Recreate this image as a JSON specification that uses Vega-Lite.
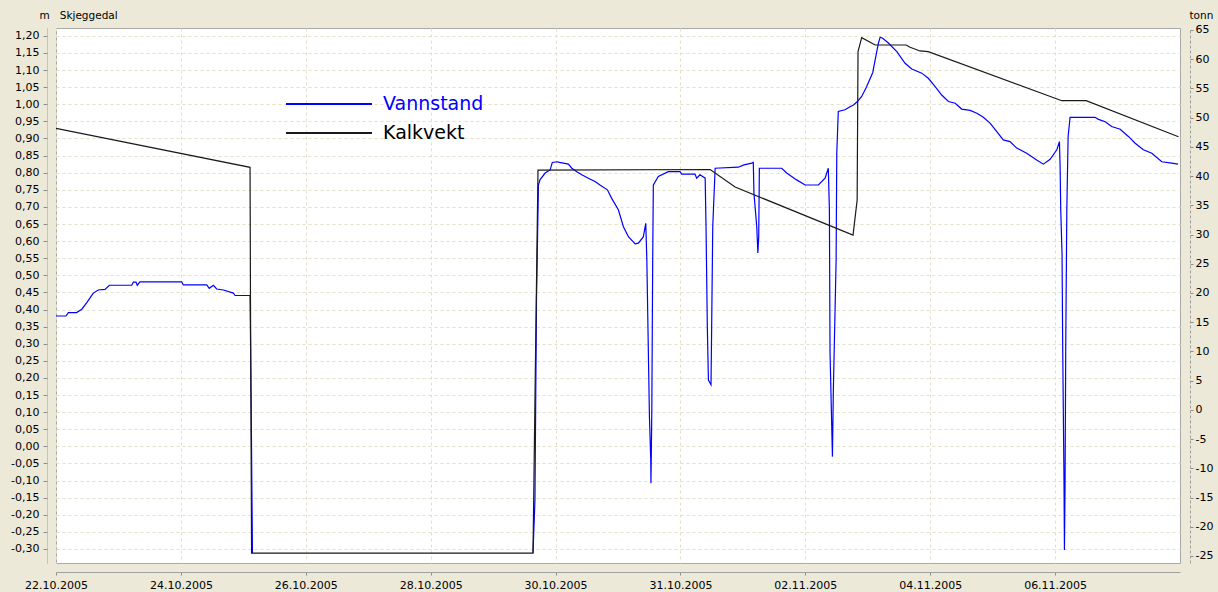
{
  "$schema": "https://vega.github.io/schema/vega-lite/v6.json",
  "width": 1124,
  "height": 535,
  "autosize": {"type": "none"},
  "padding": {"left": 56, "top": 28, "right": 38, "bottom": 29},
  "background": "#ECE9D8",
  "view": {"fill": "#ffffff", "stroke": "#a8a8a8", "strokeWidth": 1},
  "config": {
    "locale": {"number": {"decimal": ",", "thousands": " ", "grouping": [3], "currency": ["", " kr"], "minus": "-"}},
    "font": "DejaVu Sans",
    "axis": {
      "labelFont": "DejaVu Sans", "labelFontSize": 11, "labelColor": "#000000",
      "titleFont": "DejaVu Sans", "titleFontSize": 10.5, "titleFontWeight": "normal", "titleColor": "#000000",
      "gridColor": "#e4e0c8", "gridDash": [3, 3], "gridWidth": 1,
      "tickColor": "#8c8c8c", "domainColor": "#a0a0a0"
    }
  },
  "datasets": {
    "vannstand": [
      {"del": 1, "tid": "2005-10-22T00:00", "verdi": 0.381},
      {"del": 1, "tid": "2005-10-22T03:50", "verdi": 0.381},
      {"del": 1, "tid": "2005-10-22T04:45", "verdi": 0.391},
      {"del": 1, "tid": "2005-10-22T07:55", "verdi": 0.391},
      {"del": 1, "tid": "2005-10-22T09:55", "verdi": 0.401},
      {"del": 1, "tid": "2005-10-22T11:50", "verdi": 0.420},
      {"del": 1, "tid": "2005-10-22T14:20", "verdi": 0.448},
      {"del": 1, "tid": "2005-10-22T16:15", "verdi": 0.457},
      {"del": 1, "tid": "2005-10-22T18:50", "verdi": 0.459},
      {"del": 1, "tid": "2005-10-22T20:30", "verdi": 0.471},
      {"del": 1, "tid": "2005-10-23T05:05", "verdi": 0.471},
      {"del": 1, "tid": "2005-10-23T05:45", "verdi": 0.480},
      {"del": 1, "tid": "2005-10-23T06:45", "verdi": 0.480},
      {"del": 1, "tid": "2005-10-23T07:15", "verdi": 0.471},
      {"del": 1, "tid": "2005-10-23T08:15", "verdi": 0.481},
      {"del": 1, "tid": "2005-10-24T00:20", "verdi": 0.481},
      {"del": 1, "tid": "2005-10-24T00:55", "verdi": 0.472},
      {"del": 1, "tid": "2005-10-24T09:55", "verdi": 0.472},
      {"del": 1, "tid": "2005-10-24T10:55", "verdi": 0.462},
      {"del": 1, "tid": "2005-10-24T12:30", "verdi": 0.471},
      {"del": 1, "tid": "2005-10-24T13:45", "verdi": 0.460},
      {"del": 1, "tid": "2005-10-24T16:20", "verdi": 0.457},
      {"del": 1, "tid": "2005-10-24T20:10", "verdi": 0.448},
      {"del": 1, "tid": "2005-10-24T20:50", "verdi": 0.441},
      {"del": 1, "tid": "2005-10-25T02:35", "verdi": 0.441},
      {"del": 1, "tid": "2005-10-25T03:00", "verdi": 0.136},
      {"del": 1, "tid": "2005-10-25T03:30", "verdi": -0.312},
      {"del": 2, "tid": "2005-10-29T15:20", "verdi": -0.312},
      {"del": 2, "tid": "2005-10-29T16:05", "verdi": -0.157},
      {"del": 2, "tid": "2005-10-29T16:40", "verdi": 0.428},
      {"del": 2, "tid": "2005-10-29T17:25", "verdi": 0.764},
      {"del": 2, "tid": "2005-10-29T18:00", "verdi": 0.779},
      {"del": 2, "tid": "2005-10-29T20:00", "verdi": 0.799},
      {"del": 2, "tid": "2005-10-29T21:55", "verdi": 0.808},
      {"del": 2, "tid": "2005-10-29T22:45", "verdi": 0.830},
      {"del": 2, "tid": "2005-10-30T00:40", "verdi": 0.832},
      {"del": 2, "tid": "2005-10-30T01:30", "verdi": 0.830},
      {"del": 2, "tid": "2005-10-30T04:55", "verdi": 0.825},
      {"del": 2, "tid": "2005-10-30T06:15", "verdi": 0.813},
      {"del": 2, "tid": "2005-10-30T08:10", "verdi": 0.803},
      {"del": 2, "tid": "2005-10-30T10:05", "verdi": 0.794},
      {"del": 2, "tid": "2005-10-30T12:35", "verdi": 0.784},
      {"del": 2, "tid": "2005-10-30T15:10", "verdi": 0.774},
      {"del": 2, "tid": "2005-10-30T17:05", "verdi": 0.764},
      {"del": 2, "tid": "2005-10-30T19:55", "verdi": 0.750},
      {"del": 2, "tid": "2005-10-30T21:35", "verdi": 0.725},
      {"del": 2, "tid": "2005-10-31T00:10", "verdi": 0.691},
      {"del": 2, "tid": "2005-10-31T02:05", "verdi": 0.642},
      {"del": 2, "tid": "2005-10-31T04:00", "verdi": 0.613},
      {"del": 2, "tid": "2005-10-31T06:35", "verdi": 0.592},
      {"del": 2, "tid": "2005-10-31T07:50", "verdi": 0.594},
      {"del": 2, "tid": "2005-10-31T09:45", "verdi": 0.613},
      {"del": 2, "tid": "2005-10-31T10:40", "verdi": 0.652},
      {"del": 2, "tid": "2005-10-31T11:05", "verdi": 0.545},
      {"del": 2, "tid": "2005-10-31T12:05", "verdi": 0.087},
      {"del": 2, "tid": "2005-10-31T12:35", "verdi": -0.040},
      {"del": 2, "tid": "2005-10-31T12:40", "verdi": -0.108},
      {"del": 2, "tid": "2005-10-31T13:00", "verdi": 0.106},
      {"del": 2, "tid": "2005-10-31T13:20", "verdi": 0.545},
      {"del": 2, "tid": "2005-10-31T13:35", "verdi": 0.764},
      {"del": 2, "tid": "2005-10-31T15:30", "verdi": 0.789},
      {"del": 2, "tid": "2005-10-31T19:20", "verdi": 0.803},
      {"del": 2, "tid": "2005-10-31T23:50", "verdi": 0.803},
      {"del": 2, "tid": "2005-11-01T00:30", "verdi": 0.796},
      {"del": 2, "tid": "2005-11-01T05:35", "verdi": 0.796},
      {"del": 2, "tid": "2005-11-01T06:15", "verdi": 0.784},
      {"del": 2, "tid": "2005-11-01T07:30", "verdi": 0.794},
      {"del": 2, "tid": "2005-11-01T09:30", "verdi": 0.784},
      {"del": 2, "tid": "2005-11-01T09:50", "verdi": 0.642},
      {"del": 2, "tid": "2005-11-01T10:20", "verdi": 0.350},
      {"del": 2, "tid": "2005-11-01T10:45", "verdi": 0.194},
      {"del": 2, "tid": "2005-11-01T11:45", "verdi": 0.180},
      {"del": 2, "tid": "2005-11-01T12:00", "verdi": 0.350},
      {"del": 2, "tid": "2005-11-01T12:25", "verdi": 0.642},
      {"del": 2, "tid": "2005-11-01T13:20", "verdi": 0.813},
      {"del": 2, "tid": "2005-11-01T22:15", "verdi": 0.816},
      {"del": 2, "tid": "2005-11-02T00:25", "verdi": 0.823},
      {"del": 2, "tid": "2005-11-02T03:25", "verdi": 0.828},
      {"del": 2, "tid": "2005-11-02T04:00", "verdi": 0.830},
      {"del": 2, "tid": "2005-11-02T04:15", "verdi": 0.740},
      {"del": 2, "tid": "2005-11-02T05:20", "verdi": 0.642},
      {"del": 2, "tid": "2005-11-02T05:45", "verdi": 0.565},
      {"del": 2, "tid": "2005-11-02T06:05", "verdi": 0.613},
      {"del": 2, "tid": "2005-11-02T06:20", "verdi": 0.813},
      {"del": 2, "tid": "2005-11-02T14:55", "verdi": 0.813},
      {"del": 2, "tid": "2005-11-02T16:50", "verdi": 0.799},
      {"del": 2, "tid": "2005-11-02T20:40", "verdi": 0.779},
      {"del": 2, "tid": "2005-11-02T23:55", "verdi": 0.764},
      {"del": 2, "tid": "2005-11-03T05:00", "verdi": 0.764},
      {"del": 2, "tid": "2005-11-03T07:35", "verdi": 0.784},
      {"del": 2, "tid": "2005-11-03T08:50", "verdi": 0.813},
      {"del": 2, "tid": "2005-11-03T09:15", "verdi": 0.691},
      {"del": 2, "tid": "2005-11-03T09:30", "verdi": 0.272},
      {"del": 2, "tid": "2005-11-03T10:25", "verdi": -0.030},
      {"del": 2, "tid": "2005-11-03T10:45", "verdi": 0.156},
      {"del": 2, "tid": "2005-11-03T11:50", "verdi": 0.545},
      {"del": 2, "tid": "2005-11-03T12:05", "verdi": 0.857},
      {"del": 2, "tid": "2005-11-03T12:40", "verdi": 0.979},
      {"del": 2, "tid": "2005-11-03T15:15", "verdi": 0.984},
      {"del": 2, "tid": "2005-11-03T17:10", "verdi": 0.993},
      {"del": 2, "tid": "2005-11-03T18:30", "verdi": 0.998},
      {"del": 2, "tid": "2005-11-03T20:00", "verdi": 1.008},
      {"del": 2, "tid": "2005-11-03T21:40", "verdi": 1.023},
      {"del": 2, "tid": "2005-11-03T23:35", "verdi": 1.052},
      {"del": 2, "tid": "2005-11-04T01:55", "verdi": 1.093},
      {"del": 2, "tid": "2005-11-04T02:50", "verdi": 1.130},
      {"del": 2, "tid": "2005-11-04T04:05", "verdi": 1.179},
      {"del": 2, "tid": "2005-11-04T04:45", "verdi": 1.196},
      {"del": 2, "tid": "2005-11-04T05:45", "verdi": 1.193},
      {"del": 2, "tid": "2005-11-04T07:55", "verdi": 1.179},
      {"del": 2, "tid": "2005-11-04T11:10", "verdi": 1.154},
      {"del": 2, "tid": "2005-11-04T14:20", "verdi": 1.120},
      {"del": 2, "tid": "2005-11-04T16:55", "verdi": 1.103},
      {"del": 2, "tid": "2005-11-04T20:45", "verdi": 1.091},
      {"del": 2, "tid": "2005-11-04T23:15", "verdi": 1.076},
      {"del": 2, "tid": "2005-11-05T01:50", "verdi": 1.052},
      {"del": 2, "tid": "2005-11-05T04:25", "verdi": 1.027},
      {"del": 2, "tid": "2005-11-05T07:00", "verdi": 1.008},
      {"del": 2, "tid": "2005-11-05T09:35", "verdi": 1.003},
      {"del": 2, "tid": "2005-11-05T12:05", "verdi": 0.986},
      {"del": 2, "tid": "2005-11-05T15:20", "verdi": 0.982},
      {"del": 2, "tid": "2005-11-05T17:55", "verdi": 0.974},
      {"del": 2, "tid": "2005-11-05T20:25", "verdi": 0.962},
      {"del": 2, "tid": "2005-11-05T23:00", "verdi": 0.945},
      {"del": 2, "tid": "2005-11-06T01:35", "verdi": 0.920},
      {"del": 2, "tid": "2005-11-06T04:05", "verdi": 0.896},
      {"del": 2, "tid": "2005-11-06T06:40", "verdi": 0.891},
      {"del": 2, "tid": "2005-11-06T09:15", "verdi": 0.872},
      {"del": 2, "tid": "2005-11-06T13:05", "verdi": 0.857},
      {"del": 2, "tid": "2005-11-06T16:55", "verdi": 0.837},
      {"del": 2, "tid": "2005-11-06T19:30", "verdi": 0.825},
      {"del": 2, "tid": "2005-11-06T22:05", "verdi": 0.839},
      {"del": 2, "tid": "2005-11-07T00:40", "verdi": 0.867},
      {"del": 2, "tid": "2005-11-07T01:40", "verdi": 0.891},
      {"del": 2, "tid": "2005-11-07T01:55", "verdi": 0.818},
      {"del": 2, "tid": "2005-11-07T02:10", "verdi": 0.691},
      {"del": 2, "tid": "2005-11-07T02:40", "verdi": 0.560},
      {"del": 2, "tid": "2005-11-07T02:55", "verdi": 0.292},
      {"del": 2, "tid": "2005-11-07T03:25", "verdi": -0.103},
      {"del": 2, "tid": "2005-11-07T03:35", "verdi": -0.303},
      {"del": 2, "tid": "2005-11-07T03:50", "verdi": -0.103},
      {"del": 2, "tid": "2005-11-07T04:05", "verdi": 0.292},
      {"del": 2, "tid": "2005-11-07T04:30", "verdi": 0.691},
      {"del": 2, "tid": "2005-11-07T05:00", "verdi": 0.906},
      {"del": 2, "tid": "2005-11-07T05:45", "verdi": 0.962},
      {"del": 2, "tid": "2005-11-07T15:20", "verdi": 0.962},
      {"del": 2, "tid": "2005-11-07T16:40", "verdi": 0.956},
      {"del": 2, "tid": "2005-11-07T19:15", "verdi": 0.949},
      {"del": 2, "tid": "2005-11-07T21:45", "verdi": 0.935},
      {"del": 2, "tid": "2005-11-08T01:00", "verdi": 0.927},
      {"del": 2, "tid": "2005-11-08T04:10", "verdi": 0.906},
      {"del": 2, "tid": "2005-11-08T06:45", "verdi": 0.886},
      {"del": 2, "tid": "2005-11-08T09:55", "verdi": 0.867},
      {"del": 2, "tid": "2005-11-08T13:10", "verdi": 0.857},
      {"del": 2, "tid": "2005-11-08T17:00", "verdi": 0.832},
      {"del": 2, "tid": "2005-11-08T20:50", "verdi": 0.828},
      {"del": 2, "tid": "2005-11-08T23:15", "verdi": 0.825}
    ],
    "kalkvekt": [
      {"tid": "2005-10-22T00:00", "verdi": 48.17},
      {"tid": "2005-10-25T02:35", "verdi": 41.50},
      {"tid": "2005-10-25T02:45", "verdi": 18.79},
      {"tid": "2005-10-25T03:10", "verdi": -24.5},
      {"tid": "2005-10-29T15:20", "verdi": -24.5},
      {"tid": "2005-10-29T16:05", "verdi": 1.68},
      {"tid": "2005-10-29T17:15", "verdi": 41.03},
      {"tid": "2005-11-01T11:25", "verdi": 41.12},
      {"tid": "2005-11-01T21:00", "verdi": 38.12},
      {"tid": "2005-11-03T18:20", "verdi": 29.91},
      {"tid": "2005-11-03T19:55", "verdi": 35.90},
      {"tid": "2005-11-03T20:15", "verdi": 61.28},
      {"tid": "2005-11-03T21:40", "verdi": 63.67},
      {"tid": "2005-11-04T02:50", "verdi": 62.42},
      {"tid": "2005-11-04T14:45", "verdi": 62.42},
      {"tid": "2005-11-04T16:15", "verdi": 62.03},
      {"tid": "2005-11-04T20:05", "verdi": 61.40},
      {"tid": "2005-11-04T23:15", "verdi": 61.28},
      {"tid": "2005-11-07T02:35", "verdi": 52.89},
      {"tid": "2005-11-07T11:55", "verdi": 52.89},
      {"tid": "2005-11-08T23:25", "verdi": 46.73}
    ]
  },
  "encoding": {
    "x": {
      "field": "tid", "type": "temporal",
      "scale": {"domain": [{"year": 2005, "month": 10, "date": 22}, {"year": 2005, "month": 11, "date": 9}]},
      "axis": {
        "title": null,
        "values": [
          {"year": 2005, "month": 10, "date": 22}, {"year": 2005, "month": 10, "date": 24},
          {"year": 2005, "month": 10, "date": 26}, {"year": 2005, "month": 10, "date": 28},
          {"year": 2005, "month": 10, "date": 30}, {"year": 2005, "month": 11, "date": 1},
          {"year": 2005, "month": 11, "date": 3}, {"year": 2005, "month": 11, "date": 5},
          {"year": 2005, "month": 11, "date": 7}
        ],
        "labelExpr": "timeFormat(datum.value - (datum.value > datetime(2005, 9, 31) ? 3600000 : 0), '%d.%m.%Y')",
        "offset": 9, "tickSize": 3, "labelPadding": 4, "labelFlush": false, "labelOverlap": false,
        "grid": true, "domain": true
      }
    }
  },
  "layer": [
    {
      "data": {"name": "vannstand"},
      "mark": {"type": "line", "strokeWidth": 1.2, "clip": true, "interpolate": "linear"},
      "encoding": {
        "y": {
          "field": "verdi", "type": "quantitative",
          "scale": {"domain": [-0.341, 1.223], "nice": false, "zero": false},
          "axis": {
            "orient": "left",
            "values": [-0.3, -0.25, -0.2, -0.15, -0.1, -0.05, 0, 0.05, 0.1, 0.15, 0.2, 0.25, 0.3, 0.35, 0.4, 0.45, 0.5, 0.55, 0.6, 0.65, 0.7, 0.75, 0.8, 0.85, 0.9, 0.95, 1.0, 1.05, 1.1, 1.15, 1.2],
            "format": ".2f",
            "title": "m\u00a0\u00a0\u00a0Skjeggedal", "titleAngle": 0, "titleAlign": "left", "titleBaseline": "middle",
            "titleX": -8, "titleY": -13,
            "offset": 9, "tickSize": 4, "labelPadding": 4,
            "domain": true, "domainDash": [1, 1], "grid": true, "labelOverlap": false
          }
        },
        "detail": {"field": "del", "type": "nominal"},
        "color": {
          "datum": "Vannstand", "type": "nominal",
          "scale": {"domain": ["Vannstand", "Kalkvekt"], "range": ["#0000ff", "#1a1a1a"]},
          "legend": {
            "orient": "none", "legendX": 263, "legendY": 66, "title": null,
            "symbolType": "M-5,0H5", "symbolSize": 296, "symbolStrokeWidth": 2,
            "labelFont": "DejaVu Sans", "labelFontSize": 19, "labelOffset": 44,
            "rowPadding": 9, "padding": 0,
            "encode": {"labels": {"update": {"fill": {"signal": "datum.value === 'Vannstand' ? '#0000ff' : '#000000'"}}}}
          }
        }
      }
    },
    {
      "data": {"name": "kalkvekt"},
      "mark": {"type": "line", "strokeWidth": 1.2, "clip": true, "interpolate": "linear"},
      "encoding": {
        "y": {
          "field": "verdi", "type": "quantitative",
          "scale": {"domain": [-26.2, 65.33], "nice": false, "zero": false},
          "axis": {
            "orient": "right",
            "values": [-25, -20, -15, -10, -5, 0, 5, 10, 15, 20, 25, 30, 35, 40, 45, 50, 55, 60, 65],
            "format": "d",
            "title": "tonn", "titleAngle": 0, "titleAlign": "left", "titleBaseline": "middle",
            "titleX": -1, "titleY": -13,
            "offset": 10, "tickSize": 3, "labelPadding": 2,
            "domain": true, "domainDash": [3, 2], "grid": false, "labelOverlap": false
          }
        },
        "color": {"datum": "Kalkvekt", "type": "nominal"}
      }
    }
  ],
  "resolve": {"scale": {"y": "independent"}}
}
